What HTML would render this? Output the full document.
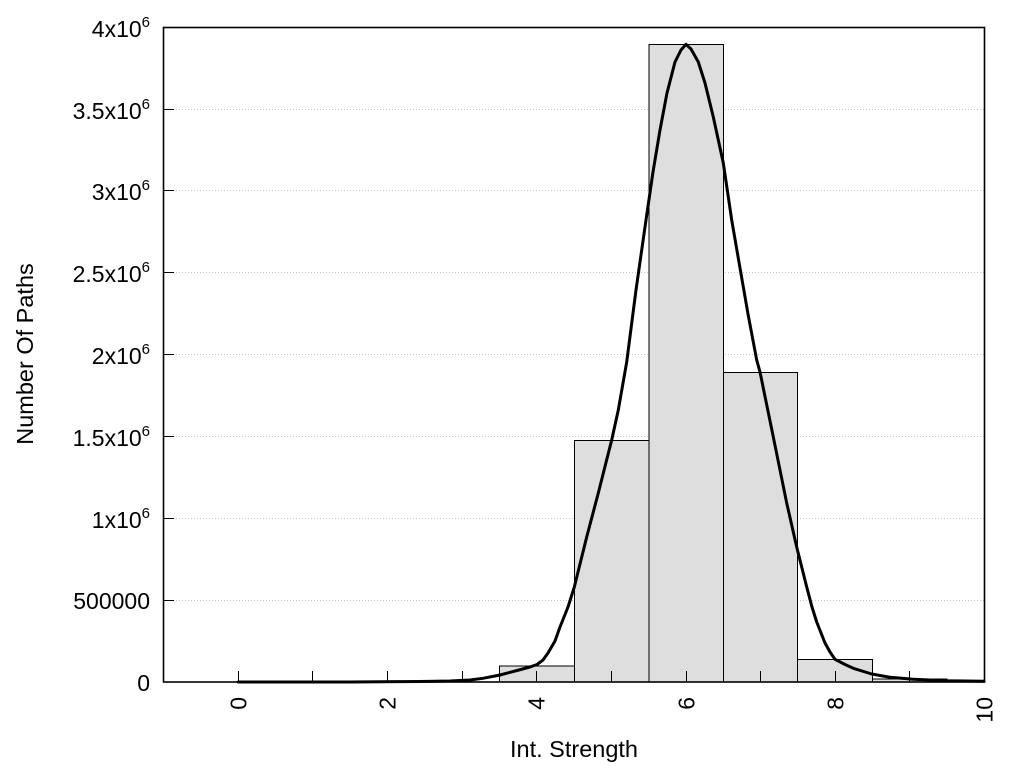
<!DOCTYPE html>
<html>
<head>
<meta charset="utf-8">
<style>
html,body{margin:0;padding:0;background:#fff;}
svg{display:block;}
text{font-family:"Liberation Sans",Arial,sans-serif;fill:#000;}
</style>
</head>
<body>
<svg width="1024" height="768" viewBox="0 0 1024 768" xmlns="http://www.w3.org/2000/svg">
<rect x="0" y="0" width="1024" height="768" fill="#fff"/>
<!-- grid -->
<g stroke="#c4c4c4" stroke-width="1" stroke-dasharray="1,2" fill="none">
<line x1="164" y1="600.5" x2="984" y2="600.5"/>
<line x1="164" y1="518.5" x2="984" y2="518.5"/>
<line x1="164" y1="436.5" x2="984" y2="436.5"/>
<line x1="164" y1="354.5" x2="984" y2="354.5"/>
<line x1="164" y1="272.5" x2="984" y2="272.5"/>
<line x1="164" y1="190.5" x2="984" y2="190.5"/>
<line x1="164" y1="109.5" x2="984" y2="109.5"/>
</g>
<!-- bars -->
<g fill="#dedede" stroke="#000" stroke-width="1">
<rect x="499.5" y="666" width="75" height="16"/>
<rect x="574.5" y="440.5" width="74.5" height="241.5"/>
<rect x="649" y="44.5" width="74.5" height="637.5"/>
<rect x="723.5" y="372.5" width="74" height="309.5"/>
<rect x="797.5" y="659.5" width="75" height="22.5"/>
<rect x="872.5" y="679" width="74.5" height="3"/>
<rect x="947" y="681" width="37.5" height="1"/>
</g>
<!-- curve -->
<polyline fill="none" stroke="#000" stroke-width="3" stroke-linejoin="round" stroke-linecap="round" points="
238.3,682 350,682 420,681.5 450,681 470,680 483,678.3 500,675 517,670.5 530,667 537,664.5 543,660 548,653 555,641 560,627 568,607 574.3,587 586.7,537 598.3,493 611.7,440 618.3,410 626.7,362 636,290 646,220 653,172 660,130 667,93 675,62 681,50 686,44.3 691,49 698.3,62 705,83 713.3,117 723.3,163 731.7,220 740,268 748,314 756.7,360 760,372 773.3,437 786.7,503 796.7,547 806.7,587 812,607 816.7,622 825,643 830,652 835,659.3 845,664.5 853.3,668.3 871.7,674 890,677.3 913.3,679.3 946.7,680.7 984,681.3"/>
<!-- ticks -->
<g stroke="#000" stroke-width="1">
<line x1="163.5" y1="600.5" x2="174" y2="600.5"/>
<line x1="163.5" y1="518.5" x2="174" y2="518.5"/>
<line x1="163.5" y1="436.5" x2="174" y2="436.5"/>
<line x1="163.5" y1="354.5" x2="174" y2="354.5"/>
<line x1="163.5" y1="272.5" x2="174" y2="272.5"/>
<line x1="163.5" y1="190.5" x2="174" y2="190.5"/>
<line x1="163.5" y1="109.5" x2="174" y2="109.5"/>
<line x1="238.5" y1="682" x2="238.5" y2="671"/>
<line x1="312.5" y1="682" x2="312.5" y2="671"/>
<line x1="387.5" y1="682" x2="387.5" y2="671"/>
<line x1="462.5" y1="682" x2="462.5" y2="671"/>
<line x1="536.5" y1="682" x2="536.5" y2="671"/>
<line x1="611.5" y1="682" x2="611.5" y2="671"/>
<line x1="686.5" y1="682" x2="686.5" y2="671"/>
<line x1="760.5" y1="682" x2="760.5" y2="671"/>
<line x1="835.5" y1="682" x2="835.5" y2="671"/>
<line x1="909.5" y1="682" x2="909.5" y2="671"/>
</g>
<!-- border -->
<rect x="163.5" y="27.5" width="821" height="654.5" fill="none" stroke="#000" stroke-width="1.6"/>
<!-- y tick labels -->
<g font-size="23" text-anchor="end">
<text x="150" y="691">0</text>
<text x="150" y="609">500000</text>
<text x="150" y="528">1x10<tspan font-size="15" dy="-10">6</tspan></text>
<text x="150" y="446">1.5x10<tspan font-size="15" dy="-10">6</tspan></text>
<text x="150" y="364">2x10<tspan font-size="15" dy="-10">6</tspan></text>
<text x="150" y="282">2.5x10<tspan font-size="15" dy="-10">6</tspan></text>
<text x="150" y="200">3x10<tspan font-size="15" dy="-10">6</tspan></text>
<text x="150" y="119">3.5x10<tspan font-size="15" dy="-10">6</tspan></text>
<text x="150" y="37">4x10<tspan font-size="15" dy="-10">6</tspan></text>
</g>
<!-- x tick labels -->
<g font-size="23" text-anchor="end">
<text transform="translate(246.5,697) rotate(-90)">0</text>
<text transform="translate(395.5,697) rotate(-90)">2</text>
<text transform="translate(544.5,697) rotate(-90)">4</text>
<text transform="translate(694.5,697) rotate(-90)">6</text>
<text transform="translate(843.5,697) rotate(-90)">8</text>
<text transform="translate(992.5,697) rotate(-90)">10</text>
</g>
<!-- axis titles -->
<text x="574" y="757" font-size="23.5" text-anchor="middle">Int. Strength</text>
<text transform="translate(33,354) rotate(-90)" font-size="23.5" text-anchor="middle">Number Of Paths</text>
</svg>
</body>
</html>
